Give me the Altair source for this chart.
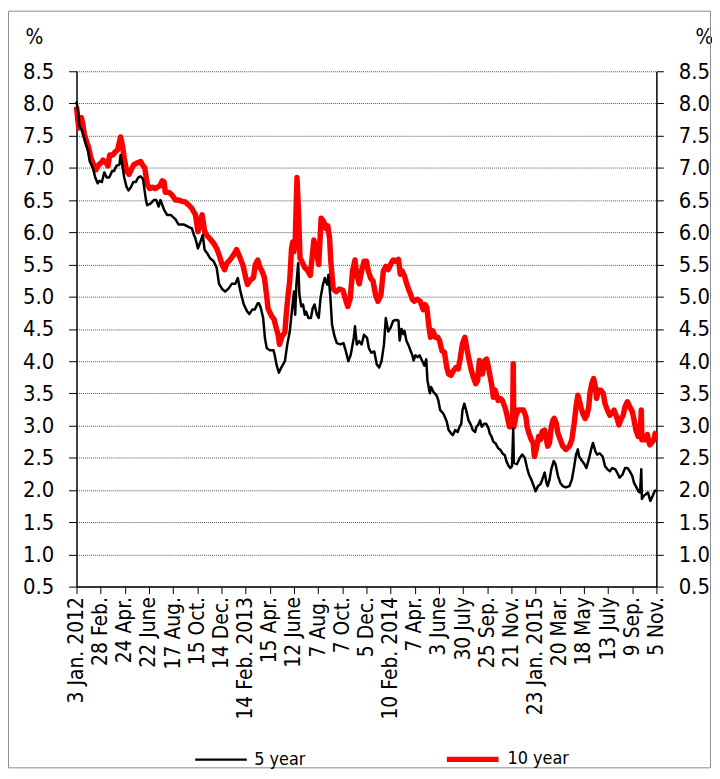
import json
import altair as alt
import pandas as pd

# ---- axis text -------------------------------------------------------------
x_labels = ["3 Jan. 2012", "28 Feb.", "24 Apr.", "22 June", "17 Aug.", "15 Oct.",
            "14 Dec.", "14 Feb. 2013", "15 Apr.", "12 June", "7 Aug.", "7 Oct.",
            "5 Dec.", "10 Feb. 2014", "7 Apr.", "3 June", "30 July", "25 Sep.",
            "21 Nov.", "23 Jan. 2015", "20 Mar.", "18 May", "13 July", "9 Sep.",
            "5 Nov."]
tick_days = [0, 40, 80, 120, 160, 200, 240, 280, 320, 360, 400, 440, 480, 520,
             560, 600, 640, 680, 720, 760, 800, 840, 880, 920, 960]
y_ticks = [0.5, 1.0, 1.5, 2.0, 2.5, 3.0, 3.5, 4.0, 4.5, 5.0, 5.5, 6.0, 6.5, 7.0,
           7.5, 8.0, 8.5]

# ---- 5 year yield (trading day index, %) ----------------------------------
days_5y = [0, 3, 5, 8, 10, 13, 16, 19, 22, 27, 31, 35, 38, 42, 46, 50, 54, 59, 62, 66,
           71, 73, 76, 79, 83, 86, 90, 94, 98, 102, 106, 110, 115, 117, 123, 128, 132, 136, 139, 145,
           150, 156, 164, 169, 178, 186, 191, 194, 197, 201, 205, 209, 212, 216, 221, 227, 232, 236, 241, 246,
           252, 257, 263, 267, 271, 273, 277, 282, 286, 291, 295, 300, 302, 305, 309, 312, 315, 320, 326, 328,
           331, 335, 339, 345, 349, 353, 357, 360, 362, 364, 367, 369, 372, 375, 378, 380, 384, 388, 391, 394,
           398, 401, 404, 408, 411, 415, 417, 420, 423, 427, 431, 437, 442, 446, 450, 454, 459, 461, 464, 468,
           472, 476, 481, 484, 488, 493, 497, 501, 505, 509, 512, 516, 520, 524, 528, 533, 535, 538, 541, 543,
           546, 550, 553, 556, 558, 561, 565, 568, 572, 576, 579, 581, 585, 587, 591, 596, 599, 602, 607, 610,
           613, 616, 620, 623, 627, 631, 634, 637, 639, 642, 645, 649, 653, 656, 660, 662, 665, 668, 671, 675,
           678, 682, 684, 687, 690, 694, 698, 702, 705, 709, 712, 715, 718, 721, 723, 724, 729, 734, 738, 742,
           746, 749, 753, 757, 760, 764, 768, 771, 775, 778, 780, 783, 786, 790, 793, 797, 801, 805, 810, 816,
           820, 824, 827, 830, 832, 837, 841, 844, 848, 852, 855, 859, 862, 866, 871, 875, 879, 883, 887, 892,
           895, 899, 904, 908, 912, 916, 920, 923, 927, 930, 933, 935, 936, 939, 942, 946, 950, 954, 957, 960]
yield_5y = [8.03, 7.85, 7.65, 7.6, 7.55, 7.45, 7.35, 7.27, 7.1, 7.0, 6.85, 6.76, 6.8, 6.78, 6.93, 6.85, 6.85, 6.95, 6.95, 7.03,
            7.05, 7.2, 7.03, 6.85, 6.7, 6.65, 6.7, 6.78, 6.78, 6.85, 6.87, 6.83, 6.5, 6.42, 6.45, 6.5, 6.5, 6.4, 6.5, 6.35,
            6.27, 6.27, 6.2, 6.12, 6.12, 6.08, 6.06, 5.97, 5.9, 5.75, 5.85, 5.96, 5.73, 5.68, 5.6, 5.55, 5.45, 5.2, 5.12, 5.08,
            5.13, 5.2, 5.2, 5.29, 5.1, 5.02, 4.88, 4.78, 4.73, 4.8, 4.8, 4.9, 4.9, 4.83, 4.67, 4.35, 4.2, 4.17, 4.17, 4.1,
            3.95, 3.82, 3.9, 4.0, 4.26, 4.46, 4.82, 5.08, 4.72, 5.19, 5.52, 5.03, 4.85, 4.88, 4.72, 4.77, 4.67, 4.67, 4.82, 4.88,
            4.72, 4.67, 4.98, 5.19, 5.29, 5.19, 5.34, 5.03, 4.57, 4.39, 4.28, 4.26, 4.28, 4.15, 4.0, 4.1, 4.36, 4.54, 4.26, 4.31,
            4.26, 4.41, 4.36, 4.2, 4.13, 4.15, 3.95, 3.9, 4.0, 4.26, 4.67, 4.46, 4.52, 4.62, 4.64, 4.63, 4.32, 4.5, 4.42, 4.47,
            4.32, 4.24, 4.16, 4.09, 4.01, 4.09, 4.06, 4.09, 4.01, 3.93, 4.03, 3.7, 3.5, 3.6, 3.52, 3.47, 3.39, 3.24, 3.19, 3.13,
            3.06, 2.93, 2.88, 2.85, 2.93, 2.9, 2.98, 3.03, 3.24, 3.34, 3.24, 3.08, 3.01, 2.93, 2.9, 2.98, 3.01, 3.08, 2.98, 3.03,
            3.03, 2.96, 2.88, 2.83, 2.75, 2.72, 2.65, 2.62, 2.57, 2.54, 2.44, 2.38, 2.34, 2.37, 2.95, 2.42, 2.4, 2.5, 2.55, 2.5,
            2.34, 2.24, 2.16, 2.06, 1.98, 2.06, 2.09, 2.16, 2.27, 2.11, 2.06, 2.16, 2.32, 2.45, 2.4, 2.22, 2.11, 2.06, 2.04, 2.06,
            2.16, 2.37, 2.55, 2.63, 2.52, 2.45, 2.4, 2.34, 2.47, 2.63, 2.73, 2.6, 2.55, 2.57, 2.52, 2.37, 2.32, 2.29, 2.34, 2.32,
            2.27, 2.19, 2.24, 2.34, 2.34, 2.29, 2.22, 2.11, 2.04, 1.98, 1.96, 2.32, 1.86, 1.91, 1.93, 1.96, 1.83, 1.91, 1.98, 2.0]

# ---- 10 year yield (trading day index, %) ---------------------------------
days_10y = [0, 2, 4, 6, 8, 10, 13, 17, 20, 24, 28, 32, 37, 41, 44, 49, 52, 55, 60, 64,
            68, 71, 73, 76, 79, 83, 87, 92, 95, 101, 106, 109, 113, 117, 121, 126, 130, 134, 138, 142,
            145, 147, 153, 158, 164, 169, 175, 180, 186, 191, 197, 201, 205, 208, 212, 216, 221, 227, 232, 236,
            241, 245, 249, 254, 260, 265, 271, 276, 280, 283, 287, 293, 296, 300, 304, 307, 311, 315, 317, 323,
            327, 331, 334, 336, 340, 345, 347, 350, 353, 356, 358, 360, 362, 365, 368, 370, 373, 378, 383, 387,
            393, 397, 401, 405, 409, 413, 416, 419, 421, 425, 430, 435, 441, 444, 449, 453, 457, 461, 464, 468,
            472, 476, 480, 483, 487, 491, 495, 499, 504, 508, 512, 516, 520, 524, 528, 533, 536, 539, 543, 546,
            550, 553, 556, 559, 564, 569, 574, 577, 580, 583, 586, 590, 594, 598, 601, 605, 609, 613, 616, 620,
            624, 628, 632, 635, 639, 643, 646, 649, 653, 657, 661, 664, 667, 669, 672, 676, 679, 682, 684, 687,
            690, 693, 695, 698, 702, 705, 709, 712, 715, 717, 720, 722, 723, 724, 727, 731, 735, 740, 744, 746,
            749, 753, 756, 758, 761, 765, 768, 771, 775, 778, 780, 783, 786, 789, 791, 794, 797, 801, 805, 810,
            816, 820, 824, 827, 830, 832, 835, 838, 842, 845, 848, 850, 853, 856, 859, 861, 864, 868, 872, 875,
            879, 883, 886, 890, 894, 898, 901, 905, 908, 912, 916, 920, 923, 926, 930, 934, 935, 936, 941, 945,
            949, 952, 956, 958, 960]
yield_10y = [7.95, 7.75, 7.62, 7.72, 7.78, 7.7, 7.52, 7.4, 7.32, 7.15, 7.05, 6.97, 7.05, 7.08, 7.12, 7.08, 7.03, 7.2, 7.2, 7.25,
             7.28, 7.4, 7.48, 7.35, 7.15, 6.95, 6.9, 7.0, 7.05, 7.08, 7.1, 7.05, 7.0, 6.75, 6.68, 6.7, 6.68, 6.7, 6.72, 6.8,
             6.78, 6.62, 6.62, 6.58, 6.5, 6.5, 6.48, 6.47, 6.42, 6.37, 6.27, 6.01, 6.18, 6.27, 6.02, 5.95, 5.9, 5.83, 5.75, 5.65,
             5.5, 5.42, 5.52, 5.57, 5.65, 5.73, 5.6, 5.47, 5.3, 5.19, 5.25, 5.3, 5.5, 5.57, 5.45, 5.4, 5.3, 5.0, 4.82, 4.7,
             4.65, 4.5, 4.4, 4.26, 4.38, 4.45, 4.7, 5.0, 5.25, 5.75, 5.85, 5.7, 5.85, 6.85, 6.2, 5.6, 5.55, 5.45, 5.4, 5.33,
             5.88, 5.7, 5.5, 6.22, 6.17, 6.06, 6.1, 5.9, 5.55, 5.12, 5.08, 5.12, 5.1, 5.0, 4.85, 4.97, 5.4, 5.57, 5.34, 5.2,
             5.4, 5.55, 5.55, 5.4, 5.29, 5.24, 5.03, 4.93, 5.03, 5.4, 5.47, 5.42, 5.5, 5.57, 5.55, 5.58, 5.35, 5.4, 5.32, 5.22,
             5.11, 5.04, 4.96, 4.93, 4.96, 4.93, 4.8, 4.88, 4.83, 4.57, 4.37, 4.47, 4.37, 4.37, 4.32, 4.16, 4.14, 3.9, 3.8, 3.78,
             3.85, 3.9, 3.88, 4.03, 4.27, 4.37, 4.21, 4.06, 3.88, 3.75, 3.65, 3.7, 4.01, 3.96, 3.8, 4.01, 4.03, 3.9, 3.8, 3.65,
             3.44, 3.55, 3.49, 3.39, 3.42, 3.39, 3.29, 3.19, 3.06, 2.98, 3.03, 2.98, 3.96, 2.98, 3.13, 3.24, 3.24, 3.24, 3.14, 2.98,
             2.88, 2.78, 2.73, 2.52, 2.63, 2.83, 2.78, 2.91, 2.93, 2.78, 2.68, 2.73, 2.98, 3.09, 3.11, 3.04, 2.88, 2.78, 2.68, 2.63,
             2.68, 2.78, 3.04, 3.29, 3.47, 3.4, 3.29, 3.19, 3.11, 3.16, 3.29, 3.5, 3.65, 3.73, 3.6, 3.42, 3.55, 3.55, 3.5, 3.34,
             3.24, 3.16, 3.19, 3.24, 3.14, 3.01, 3.09, 3.16, 3.29, 3.37, 3.29, 3.22, 3.09, 2.93, 2.83, 3.04, 3.24, 2.78, 2.78, 2.86,
             2.7, 2.73, 2.78, 2.88, 2.9]

series_names = ["5 year", "10 year"]
series_colors = ["#000000", "#ff0000"]
series_widths = [2.5, 5.5]

FONT = "DejaVu Sans Condensed, DejaVu Sans"

df = pd.concat([
    pd.DataFrame({"day": days_5y, "value": yield_5y, "series": "5 year"}),
    pd.DataFrame({"day": days_10y, "value": yield_10y, "series": "10 year"}),
], ignore_index=True)

label_expr = json.dumps(x_labels) + "[round(datum.value / 40)]"

x_enc = alt.X(
    "day:Q",
    scale=alt.Scale(domain=[0, 960], nice=False, zero=False),
    axis=alt.Axis(values=tick_days, labelExpr=label_expr, labelAngle=270,
                  labelAlign="right", labelBaseline="middle", labelPadding=3,
                  labelFontSize=21, labelOverlap=False, labelFlush=False,
                  tickSize=7, grid=False, title=None),
)

y_scale = alt.Scale(domain=[0.5, 8.5], nice=False, zero=False)

legend = alt.Legend(orient="none", legendX=118, legendY=664, direction="horizontal",
                    title=None, symbolType="stroke", symbolSize=2704,
                    labelFontSize=18, labelFont=FONT, labelColor="black",
                    labelOffset=6, columnPadding=131, padding=0)

color_enc = alt.Color("series:N", scale=alt.Scale(domain=series_names, range=series_colors),
                      legend=legend)
width_enc = alt.StrokeWidth("series:N", scale=alt.Scale(domain=series_names, range=series_widths),
                            legend=legend)

red = alt.Chart(df).transform_filter(alt.datum.series == "10 year").mark_line(
    strokeJoin="round").encode(
    x=x_enc,
    y=alt.Y("value:Q", scale=y_scale,
            axis=alt.Axis(orient="left", values=y_ticks, format=".1f", grid=True,
                          gridDash=[1, 1], gridColor="#555555", gridWidth=1,
                          tickSize=8, labelPadding=15, labelFontSize=22,
                          title="%", titleAngle=0, titleX=-52, titleY=-34,
                          titleAlign="left", titleBaseline="middle",
                          titleFontSize=21)),
    color=color_enc,
    strokeWidth=width_enc,
)

black = alt.Chart(df).transform_filter(alt.datum.series == "5 year").mark_line(
    strokeJoin="round").encode(
    x=x_enc,
    y=alt.Y("value:Q", scale=y_scale,
            axis=alt.Axis(orient="right", values=y_ticks, format=".1f", grid=False,
                          tickSize=7, labelPadding=15, labelFontSize=22,
                          title="%", titleAngle=0, titleX=39, titleY=-34,
                          titleAlign="left", titleBaseline="middle",
                          titleFontSize=21)),
    color=color_enc,
    strokeWidth=width_enc,
)

frame = alt.Chart(pd.DataFrame({"k": [0]})).mark_rect(
    fillOpacity=0, stroke="#8c8c8c", strokeWidth=1).encode(
    x=alt.value(-68.5), x2=alt.value(638.5),
    y=alt.value(-60.5), y2=alt.value(701.5),
)

chart = alt.layer(frame, red, black).resolve_axis(y="independent").properties(
    width=584, height=519,
    autosize=alt.AutoSizeParams(type="none"),
    padding={"left": 69, "top": 61, "right": 56, "bottom": 183},
).configure_view(stroke=None).configure_axis(
    labelFont=FONT, titleFont=FONT, labelColor="black", titleColor="black",
    domainColor="black", domainWidth=1.5, tickColor="black", tickWidth=1,
    titleFontWeight="normal",
)

chart.save("out.html", embed_options={"renderer": "svg", "actions": False})
